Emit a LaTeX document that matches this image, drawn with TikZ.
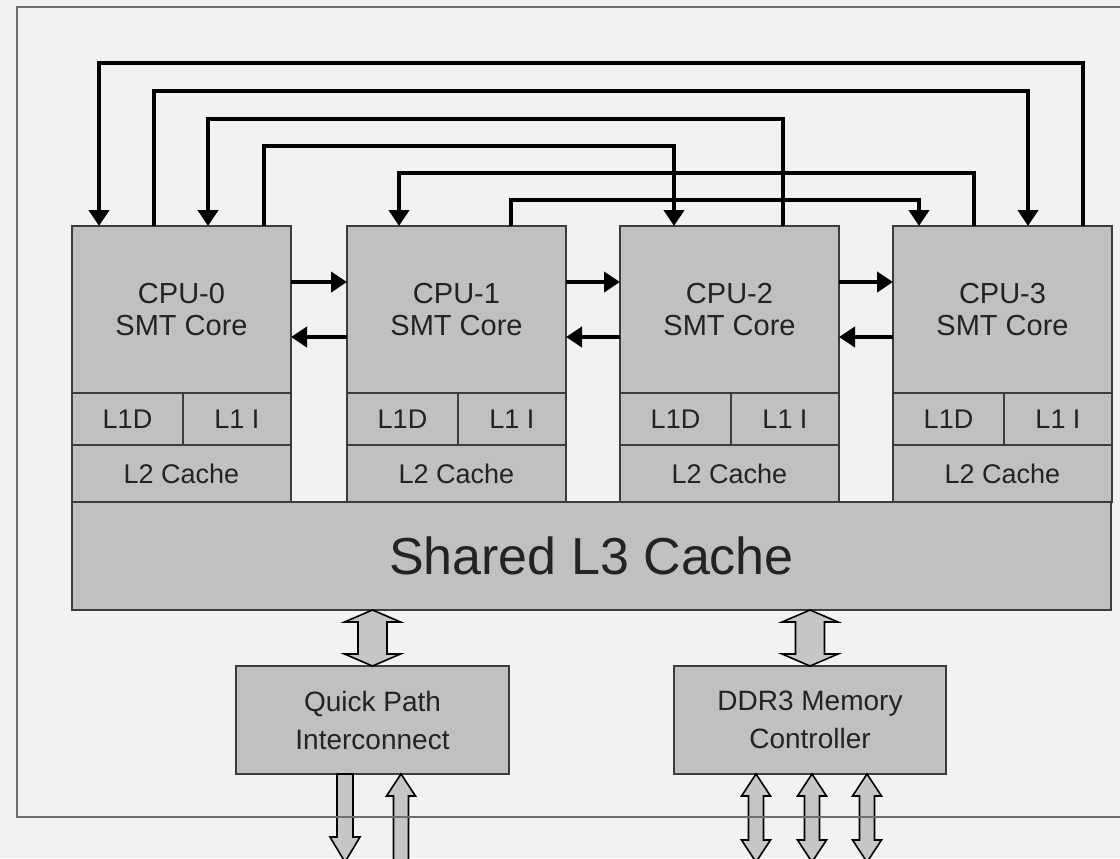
\documentclass[tikz,border=0pt]{standalone}
\usepackage{fontspec}
\setmainfont{Liberation Sans}
\usepackage{xcolor}
\usepackage{tikz}
\usetikzlibrary{arrows.meta,positioning,calc}
\definecolor{panelgray}{RGB}{242,242,242}
\definecolor{boxgray}{RGB}{192,192,192}
\definecolor{edgegray}{RGB}{60,60,60}
\definecolor{framegray}{RGB}{110,110,110}
\definecolor{pipegray}{RGB}{198,198,198}
\definecolor{inkgray}{RGB}{35,35,35}

% block arrows: #1 top end, #2 bottom end, #3 half shaft, #4 half head, #5 head length
\newcommand\pipeboth[5]{%
  \filldraw[pipe] let \p1=(#1), \p2=(#2) in
    (\x1,\y1) -- (\x1+#4,\y1-#5) -- (\x1+#3,\y1-#5) -- (\x1+#3,\y2+#5)
    -- (\x1+#4,\y2+#5) -- (\x1,\y2) -- (\x1-#4,\y2+#5) -- (\x1-#3,\y2+#5)
    -- (\x1-#3,\y1-#5) -- (\x1-#4,\y1-#5) -- cycle;}
\newcommand\pipedown[5]{%
  \filldraw[pipe] let \p1=(#1), \p2=(#2) in
    (\x1-#3,\y1) -- (\x1+#3,\y1) -- (\x1+#3,\y2+#5) -- (\x1+#4,\y2+#5)
    -- (\x1,\y2) -- (\x1-#4,\y2+#5) -- (\x1-#3,\y2+#5) -- cycle;}
\newcommand\pipeup[5]{%
  \filldraw[pipe] let \p1=(#1), \p2=(#2) in
    (\x1,\y1) -- (\x1+#4,\y1-#5) -- (\x1+#3,\y1-#5) -- (\x1+#3,\y2)
    -- (\x1-#3,\y2) -- (\x1-#3,\y1-#5) -- (\x1-#4,\y1-#5) -- cycle;}

\begin{document}
\begin{tikzpicture}[x=0.5pt,y=-0.5pt,
  every node/.style={text=inkgray,inner sep=0pt,outer sep=0pt},
  unit/.style={draw=edgegray,fill=boxgray,line width=1pt},
  core/.style={unit,minimum width=109.5pt,minimum height=83.5pt,align=center,
    font=\fontsize{14.5}{16}\selectfont},
  cache/.style={unit,minimum height=26pt,font=\fontsize{13.5}{15}\selectfont},
  ctrl/.style={unit,minimum width=136.5pt,minimum height=54pt,align=center,
    font=\fontsize{14}{19}\selectfont},
  link/.style={draw=black,line width=2pt,-{Triangle[length=8pt,width=10pt]}},
  pipe/.style={draw=black,fill=pipegray,line width=0.8pt}]
\useasboundingbox (0,0) rectangle (1120,858);
\clip (0,0) rectangle (1120,858);
\fill[panelgray] (0,0) rectangle (1120,858);

\foreach \i/\x in {0/72,1/347,2/620,3/893}{
  \node[core] (core\i) at (\x+109.5,309.5) {CPU-\i\\SMT Core};
  \node[cache,anchor=north west,minimum width=55.5pt] (l1d\i) at (core\i.south west) {L1D};
  \node[cache,anchor=north east,minimum width=54pt] (l1i\i) at (core\i.south east) {L1 I};
  \node[cache,anchor=north west,minimum width=109.5pt,minimum height=28.5pt] (l2\i)
    at (l1d\i.south west) {L2 Cache};
}
\node[unit,anchor=north west,minimum width=519.5pt,minimum height=54pt,
  font=\fontsize{26}{30}\selectfont] (l3) at (l20.south west) {Shared L3 Cache};

\node[ctrl] (qpi) at (372.5,720) {Quick Path\\Interconnect};
\node[ctrl,minimum width=136pt] (ddr) at (810,720) {DDR3 Memory\\Controller};

% neighbour links
\foreach \i/\j in {0/1,1/2,2/3}{
  \draw[link] ([yshift=13.75pt]core\i.east) -- ([yshift=13.75pt]core\j.west);
  \draw[link] ([yshift=-13.75pt]core\j.west) -- ([yshift=-13.75pt]core\i.east);
}

% long links over the top
\draw[link] ($(core3.north west)+(190,0)$) -- ++(0,-163) -| ($(core0.north west)+(27,0)$);
\draw[link] ($(core0.north west)+(82,0)$) -- ++(0,-135) -| ($(core3.north west)+(135,0)$);
\draw[link] ($(core2.north west)+(163,0)$) -- ++(0,-107) -| ($(core0.north west)+(136,0)$);
\draw[link] ($(core0.north west)+(192,0)$) -- ++(0,-80) -| ($(core2.north west)+(54,0)$);
\draw[link] ($(core3.north west)+(81,0)$) -- ++(0,-53) -| ($(core1.north west)+(52,0)$);
\draw[link] ($(core1.north west)+(164,0)$) -- ++(0,-26) -| ($(core3.north west)+(26,0)$);

% block arrows
\pipeboth{l3.south -| qpi.north}{qpi.north}{7.25pt}{14pt}{6pt}
\pipeboth{l3.south -| ddr.north}{ddr.north}{7.25pt}{14pt}{6pt}

\coordinate (qpiout) at (345,862);
\coordinate (qpiin) at (401,862);
\pipedown{qpi.south -| qpiout}{qpiout}{4pt}{7.5pt}{12.5pt}
\pipeup{qpi.south -| qpiin}{qpiin}{3.75pt}{7.25pt}{11pt}
\foreach \k/\dx in {1/-54,2/2,3/57}{
  \coordinate (mem\k) at ($(ddr.south)+(\dx,88)$);
  \pipeboth{ddr.south -| mem\k}{mem\k}{3.75pt}{7.25pt}{11pt}
}

\draw[framegray,line width=1pt] (17,7) rectangle (1140,817);
\end{tikzpicture}
\end{document}
